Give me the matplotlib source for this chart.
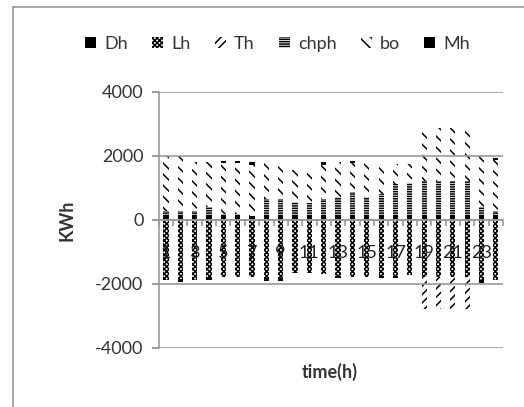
import numpy as np
import matplotlib.pyplot as plt
from matplotlib.patches import Patch
from matplotlib.lines import Line2D

# hours 1..24
horas = np.arange(1, 25)

# series values (KWh)
Dh = [120] * 24
Lh = [-1875, -1845, -1875, -1795, -1770, -1770, -1770, -1820, -1820, -1660, -1660, -1690,
      -1740, -1770, -1770, -1740, -1740, -1720, -1770, -1770, -1770, -1770, -1890, -1875]
Th = [0] * 18 + [-1000, -1000, -1000, -1000] + [0, 0]
chph = [150, 150, 150, 300, 80, 60, 0, 550, 550, 450, 400, 550,
        600, 750, 600, 700, 1000, 1050, 1100, 1100, 1100, 1100, 280, 150]
Mh = [0, -80, 0, -80, 80, 80, 80, -80, -80, 0, 0, 80,
      -80, 80, 0, -80, -80, 0, 0, 0, 0, 0, -80, 80]
tope = [2000, 2000, 1800, 1800, 1850, 1850, 1800, 1800, 1800, 1550, 1550, 1800,
        1800, 1850, 1800, 1750, 1750, 1750, 2875, 2875, 2875, 2875, 2000, 1950]
bo = [t - d - c - max(m, 0) for t, d, c, m in zip(tope, Dh, chph, Mh)]

etiquetas = ["Dh", "Lh", "Th", "chph", "bo", "Mh"]
series = [Dh, Lh, Th, chph, bo, Mh]
estilos = [
    dict(facecolor="black", hatch=None),
    dict(facecolor="white", hatch="xxxxxxx"),
    dict(facecolor="white", hatch="////"),
    dict(facecolor="white", hatch="-------"),
    dict(facecolor="white", hatch="\\\\\\"),
    dict(facecolor="black", hatch=None),
]

plt.rcParams["font.family"] = ["Lato", "DejaVu Sans"]
plt.rcParams["hatch.linewidth"] = 1.1
plt.rcParams["axes.unicode_minus"] = False

fig = plt.figure(figsize=(5.24, 4.07), dpi=100)
ax = fig.add_axes([0.303, 0.145, 0.657, 0.629])

# stacked columns, excel style (positives and negatives stacked apart)
pos = np.zeros(24)
neg = np.zeros(24)
for vals, est in zip(series, estilos):
    v = np.array(vals, dtype=float)
    base = np.where(v >= 0, pos, neg)
    ax.bar(horas, v, width=0.36, bottom=base, facecolor=est["facecolor"],
           hatch=est["hatch"], edgecolor="black", linewidth=0, zorder=1)
    pos = pos + np.where(v > 0, v, 0)
    neg = neg + np.where(v < 0, v, 0)

ax.set_xlim(0.5, 24.5)
ax.set_ylim(-4000, 4000)
ax.set_yticks([-4000, -2000, 0, 2000, 4000])
ax.grid(axis="y", color="#9a9a9a", linewidth=1.2)
ax.tick_params(axis="y", colors="#8a8a8a", labelcolor="#333333", labelsize=13,
               length=5, width=1.2, pad=6)

# category axis crossing at zero
ax.spines["bottom"].set_position(("data", 0))
ax.spines["bottom"].set_color("#9a9a9a")
ax.spines["bottom"].set_linewidth(1.2)
ax.spines["left"].set_color("#9a9a9a")
ax.spines["left"].set_linewidth(1.2)
ax.spines["top"].set_visible(False)
ax.spines["right"].set_visible(False)
ax.set_xticks(horas[::2])
ax.set_xticklabels([str(h) for h in horas[::2]])
ax.set_xticks(np.arange(0.5, 25, 1), minor=True)
ax.tick_params(axis="x", which="major", length=0, pad=18, labelsize=13,
               labelcolor="#222222")
ax.tick_params(axis="x", which="minor", length=4, width=1.2, color="#9a9a9a",
               direction="out")

ax.set_ylabel("KWh", fontsize=13, fontweight="bold", color="#333333", labelpad=14)
fig.text(0.63, 0.086, "time(h)", fontsize=13, fontweight="bold", color="#333333",
         ha="center", va="center")

# legend
manijas = [Patch(facecolor=e["facecolor"], hatch=e["hatch"], edgecolor="black",
                 linewidth=0) for e in estilos]
fig.legend(manijas, etiquetas, loc="center", bbox_to_anchor=(0.53, 0.892),
           ncol=6, frameon=False, fontsize=13, handlelength=0.6,
           handleheight=0.6, handletextpad=0.45, columnspacing=1.35,
           labelcolor="#333333")

# chart area border
fig.add_artist(Line2D([13 / 524, 13 / 524], [0, 1 - 7 / 407], color="#9a9a9a",
                      linewidth=1.2, transform=fig.transFigure))
fig.add_artist(Line2D([13 / 524, 1], [1 - 7 / 407, 1 - 7 / 407], color="#9a9a9a",
                      linewidth=1.2, transform=fig.transFigure))

plt.savefig("out.png", dpi=100)
plt.close()
